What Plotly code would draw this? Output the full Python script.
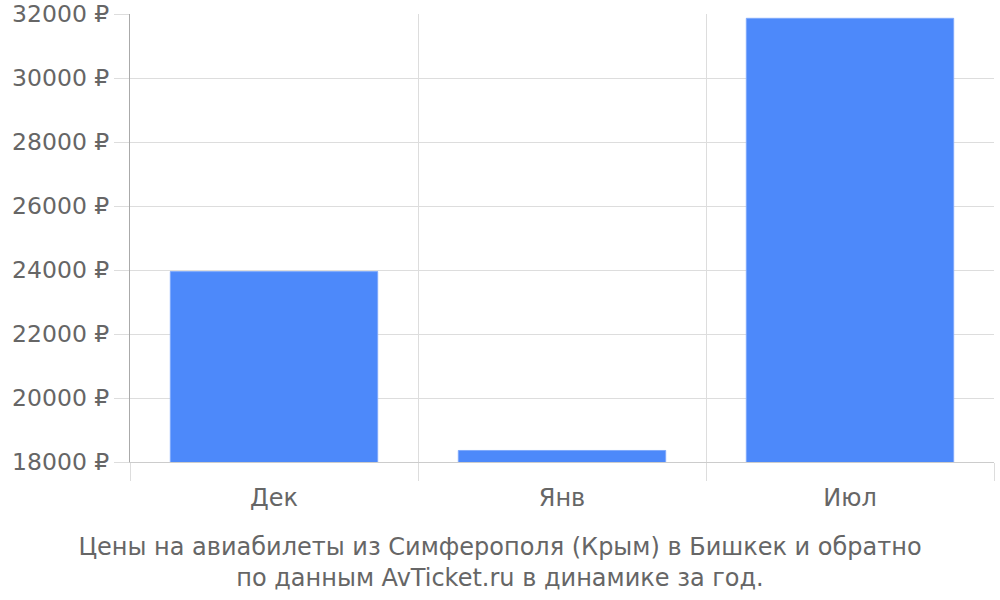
import plotly.graph_objects as go

months = ["Дек", "Янв", "Июл"]
prices = [23950, 18360, 31865]

title_text = ("Цены на авиабилеты из Симферополя (Крым) в Бишкек и обратно<br>"
              "по данным AvTicket.ru в динамике за год.")

fig = go.Figure(go.Bar(
    x=months,
    y=prices,
    marker=dict(color="#4d89fa", line=dict(color="#7fa9fb", width=1)),
))

fig.update_layout(
    width=1000,
    height=600,
    margin=dict(l=130, r=6, t=14, b=138, autoexpand=False),
    plot_bgcolor="white",
    paper_bgcolor="white",
    font=dict(family="DejaVu Sans", size=24, color="#666666"),
    bargap=0.28,
    showlegend=False,
    hovermode=False,
    title=dict(
        text=title_text,
        x=0.5, xref="container", xanchor="center",
        y=0.0755, yref="container", yanchor="middle",
        font=dict(size=24, color="#666666"),
    ),
)

fig.update_xaxes(
    type="category",
    tickson="boundaries",
    ticks="outside",
    ticklen=18,
    tickcolor="#dddddd",
    ticklabelstandoff=14,
    showgrid=True,
    gridcolor="#dddddd",
    showline=True,
    linecolor="#cccccc",
    automargin=False,
    tickfont=dict(size=24, color="#666666"),
)
fig.update_yaxes(
    range=[18000, 32000],
    dtick=2000,
    tickformat="d",
    ticksuffix=" ₽",
    ticks="outside",
    ticklen=15,
    tickcolor="#dddddd",
    showgrid=True,
    gridcolor="#dddddd",
    showline=True,
    linecolor="#aaaaaa",
    zeroline=False,
    automargin=False,
    ticklabeloverflow="allow",
    tickfont=dict(size=23.5, color="#666666"),
)

# drop the default 8px page margin so the figure fills the window
fig.write_html(
    "out.html",
    config={"displayModeBar": False},
    post_script="document.body.style.margin='0';",
)
